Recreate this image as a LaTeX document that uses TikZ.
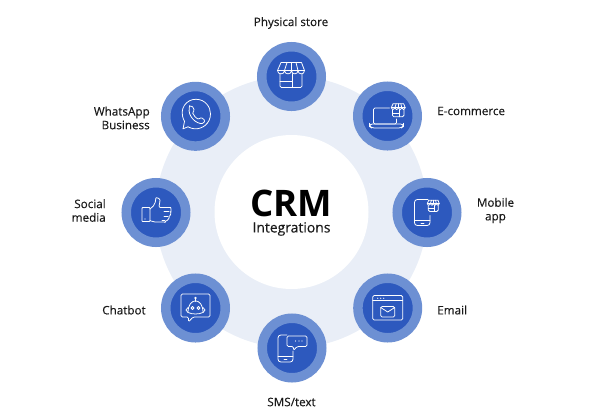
\documentclass[tikz,border=0pt]{standalone}
\usepackage{fontspec}
\setmainfont{Open Sans}
\newfontfamily\labelfont[FakeBold=0.2]{Open Sans}
\usepackage{tikz}
\usetikzlibrary{positioning}
\definecolor{ringblue}{HTML}{E9EEF7}
\definecolor{discblue}{HTML}{2D59BE}
\definecolor{edgeblue}{HTML}{6D90D3}
\definecolor{inkblack}{HTML}{1A1A1A}
\tikzset{
disc/.style={circle,fill=discblue,draw=edgeblue,line width=6.75pt,outer sep=0pt,inner sep=0pt,minimum size=1.4875cm},
icon/.style={draw=white,line width=0.55pt,line join=round,line cap=round},
lbl/.style={font=\labelfont\fontsize{8.3}{9.7}\selectfont,text=inkblack,inner sep=0pt}
}
% shop front, drawn about its own centre
\newcommand{\shopicon}{
\draw[icon,fill=discblue,rounded corners=1] (-11.5,-3) -- (-11.5,11) -- (10.5,11) -- (10.5,-3);
\draw[icon] (-11.5,5) -- (1,5);
\draw[icon] (1,-3) -- (1,11);
\draw[icon,fill=discblue] (-10.5,-14) -- (10,-14) -- (13,-6) .. controls (13,-1.5) and (6.5,-1.5) .. (6.5,-6) .. controls (6.5,-1.5) and (0,-1.5) .. (0,-6) .. controls (0,-1.5) and (-7,-1.5) .. (-7,-6) .. controls (-7,-1.5) and (-14,-1.5) .. (-14,-6) -- cycle;
\draw[icon] (-14,-6) -- (13,-6);
\draw[icon] (-7,-6) -- (-4.5,-14);
\draw[icon] (0,-6) -- (0,-14);
\draw[icon] (6.5,-6) -- (4.5,-14);
}
\begin{document}
\begin{tikzpicture}[x=0.025cm,y=-0.025cm]
\useasboundingbox (0,0) rectangle (601,416);
\fill[ringblue] (291.5,212) circle[radius=136];
\fill[white] (291.5,212) circle[radius=77];

\node[disc] (store) at (291.5,76.5) {};
\node[disc] (shop) at (387.5,116) {};
\node[disc] (mobile) at (427,212.5) {};
\node[disc] (email) at (387.7,308) {};
\node[disc] (sms) at (292,348) {};
\node[disc] (chatbot) at (195.5,308) {};
\node[disc] (social) at (156,212.5) {};
\node[disc] (whatsapp) at (195.5,116.3) {};

\node[font=\bfseries\fontsize{26}{28}\selectfont,text=black,inner sep=0pt] (crm) at (291.5,203.5) {CRM};
\node[font=\labelfont\fontsize{9.9}{12}\selectfont,text=inkblack,inner sep=0pt] (integrations) at (291.5,229) {Integrations};

\node[lbl] (storelbl) at (291,23) {Physical store};
\node[lbl,anchor=west] (shoplbl) at (437,111) {E-commerce};
\node[lbl,align=center] (mobilelbl) at (495.5,210.5) {Mobile\\app};
\node[lbl,anchor=west] (emaillbl) at (437,310) {Email};
\node[lbl] (smslbl) at (291.5,402) {SMS/text};
\node[lbl,anchor=east] (chatbotlbl) at (146,310) {Chatbot};
\node[lbl,anchor=east,align=right] (sociallbl) at (106,210.5) {Social\\media};
\node[lbl,anchor=east,align=right] (whatsapplbl) at (150,118) {WhatsApp\\Business};

% store
\begin{scope}[shift={(291.5,76.5)}]
\shopicon
\end{scope}

% e-commerce
\begin{scope}[shift={(387.5,116)}]
\draw[icon,rounded corners=1] (2,-8) -- (-14,-8) -- (-14,8) -- (9,8) -- (9,3);
\draw[icon,rounded corners=2] (-18,8) -- (16,8) -- (16,10) -- (14,12) -- (-16,12) -- (-18,10) -- cycle;
\begin{scope}[shift={(11,-5)},scale=0.52]
\shopicon
\end{scope}
\end{scope}

% mobile
\begin{scope}[shift={(427,212.5)}]
\draw[icon,rounded corners=2] (1,-13) -- (-12.5,-13) -- (-12.5,13) -- (3,13) -- (3,3);
\draw[icon] (-12.5,8) -- (3,8);
\draw[icon] (-6,10.5) -- (-3,10.5);
\begin{scope}[shift={(6.5,-6)},scale=0.45]
\shopicon
\end{scope}
\end{scope}

% email
\begin{scope}[shift={(387.7,308)}]
\draw[icon,rounded corners=1] (-15,-12.5) rectangle (15,12);
\draw[icon] (-15,-7.3) -- (15,-7.3);
\fill[white] (-10,-9.8) circle[radius=0.6] (-7,-9.8) circle[radius=0.6] (-4,-9.8) circle[radius=0.6];
\draw[icon,rounded corners=1] (-7,-1.5) rectangle (7,9);
\draw[icon] (-7,-0.5) -- (0,4) -- (7,-0.5);
\end{scope}

% sms
\begin{scope}[shift={(292,348)}]
\draw[icon,rounded corners=2] (-5,-13) -- (-14,-13) -- (-14,14) -- (1,14) -- (1,3);
\draw[icon] (-14,8.5) -- (1,8.5);
\draw[icon] (-8,11.2) -- (-5,11.2);
\draw[icon,rounded corners=1] (-5,-12) -- (15,-12) -- (15,-1.5) -- (5,-1.5) -- (1.5,2.5) -- (1.5,-1.5) -- (-5,-1.5) -- cycle;
\fill[white] (3.5,-7) circle[radius=0.6] (7,-7) circle[radius=0.6] (10,-7) circle[radius=0.6];
\end{scope}

% chatbot
\begin{scope}[shift={(195.5,308)}]
\draw[icon,rounded corners=1] (-14.5,-14) -- (14.5,-14) -- (14.5,9) -- (-2.5,9) -- (-7,14) -- (-7,9) -- (-14.5,9) -- cycle;
\draw[icon] (-7.5,4.5) .. controls (-7.5,-11) and (7.5,-11) .. (7.5,4.5) .. controls (3,6.5) and (-3,6.5) .. (-7.5,4.5) -- cycle;
\draw[icon] (-7.5,-0.5) -- (-9.5,2) -- (-7.5,4.5);
\draw[icon] (7.5,-0.5) -- (9.5,2) -- (7.5,4.5);
\draw[icon] (0,-6.5) -- (0,-9.5);
\draw[icon] (0,-10) circle[radius=0.8];
\draw[icon] (-3,0) circle[radius=1.5];
\draw[icon] (3,0) circle[radius=1.5];
\end{scope}

% social
\begin{scope}[shift={(156,212.5)}]
\draw[icon,rounded corners=0.5] (-14,-5) rectangle (-6,9);
\fill[white] (-11,6.5) circle[radius=0.6];
\draw[icon,rounded corners=1.5] (-6,-3.5) -- (-1,-8) -- (-0.5,-12.5) .. controls (0,-15) and (4,-14.5) .. (4,-10) -- (2.5,-5) -- (12.5,-5) .. controls (15,-5) and (15,-1) .. (13,-1) .. controls (15,0) and (14.5,3) .. (12,3.5) .. controls (13,5) and (12,8) .. (9,8) .. controls (9,9.5) and (8,9.5) .. (7,9.5) -- (-3,9.5) -- (-6,8);
\draw[icon] (13,-1) -- (8,-1);
\draw[icon] (12,3.5) -- (8,3.5);
\draw[icon] (9,8) -- (6,8);
\end{scope}

% whatsapp
\begin{scope}[shift={(195.5,116.3)}]
\draw[icon] (-11,5) .. controls (-18,-8) and (-8,-17.5) .. (0.5,-17) .. controls (10,-17) and (15,-9) .. (15,-2.5) .. controls (15,8) and (6,12.5) .. (0.5,12.5) .. controls (-3,12.5) and (-6,11.5) .. (-7.5,10.5) -- (-12.5,12.5) -- cycle;
\draw[icon,rounded corners=0.8] (-6,-9.5) -- (-3.5,-10.5) -- (-1,-6) -- (-3,-4) .. controls (-2,-0.5) and (1,2) .. (3.5,3) -- (5.5,1) -- (9.5,4) -- (8,7) .. controls (1,8) and (-8,0) .. (-6,-9.5) -- cycle;
\end{scope}
\end{tikzpicture}
\end{document}
